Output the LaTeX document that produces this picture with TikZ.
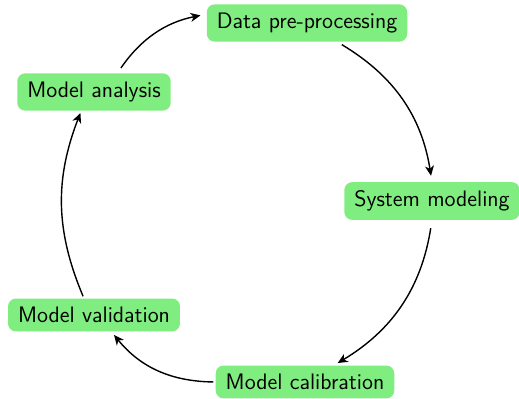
\documentclass[tikz,border=0pt]{standalone}
\usetikzlibrary{arrows.meta}
\definecolor{boxgreen}{RGB}{128,237,128}
\tikzset{
  stage/.style={fill=boxgreen, rounded corners=4pt, inner xsep=5pt, inner ysep=4.3pt, font=\sffamily\fontsize{11.2}{13}\selectfont},
  flow/.style={-{Stealth[length=5pt,width=4.5pt,inset=1.5pt]}, line width=0.7pt, black}
}
\begin{document}
\begin{tikzpicture}[x=0.5pt,y=-0.5pt]
\useasboundingbox (0,0) rectangle (519,399);
\node[stage] (dp) at (307,23) {Data pre-processing};
\node[stage] (sm) at (432,201) {System modeling};
\node[stage] (mc) at (305,382) {Model calibration};
\node[stage] (mv) at (94,315) {Model validation};
\node[stage] (ma) at (94,92) {Model analysis};
\draw[flow, shorten <=2.5pt, shorten >=3pt] (dp.-32) to[bend left=25] (sm.north);
\draw[flow, shorten <=4pt, shorten >=2pt] (sm.south) to[bend left=25] (mc.30);
\draw[flow, shorten <=1pt, shorten >=2pt] (mc.west) to[bend left=25] (mv.-44);
\draw[flow, shorten <=1pt, shorten >=1pt] (mv.121) to[bend left=22] (ma.-124);
\draw[flow, shorten <=3pt, shorten >=3pt] (ma.39) to[bend left=22] (dp.175);
\end{tikzpicture}
\end{document}
